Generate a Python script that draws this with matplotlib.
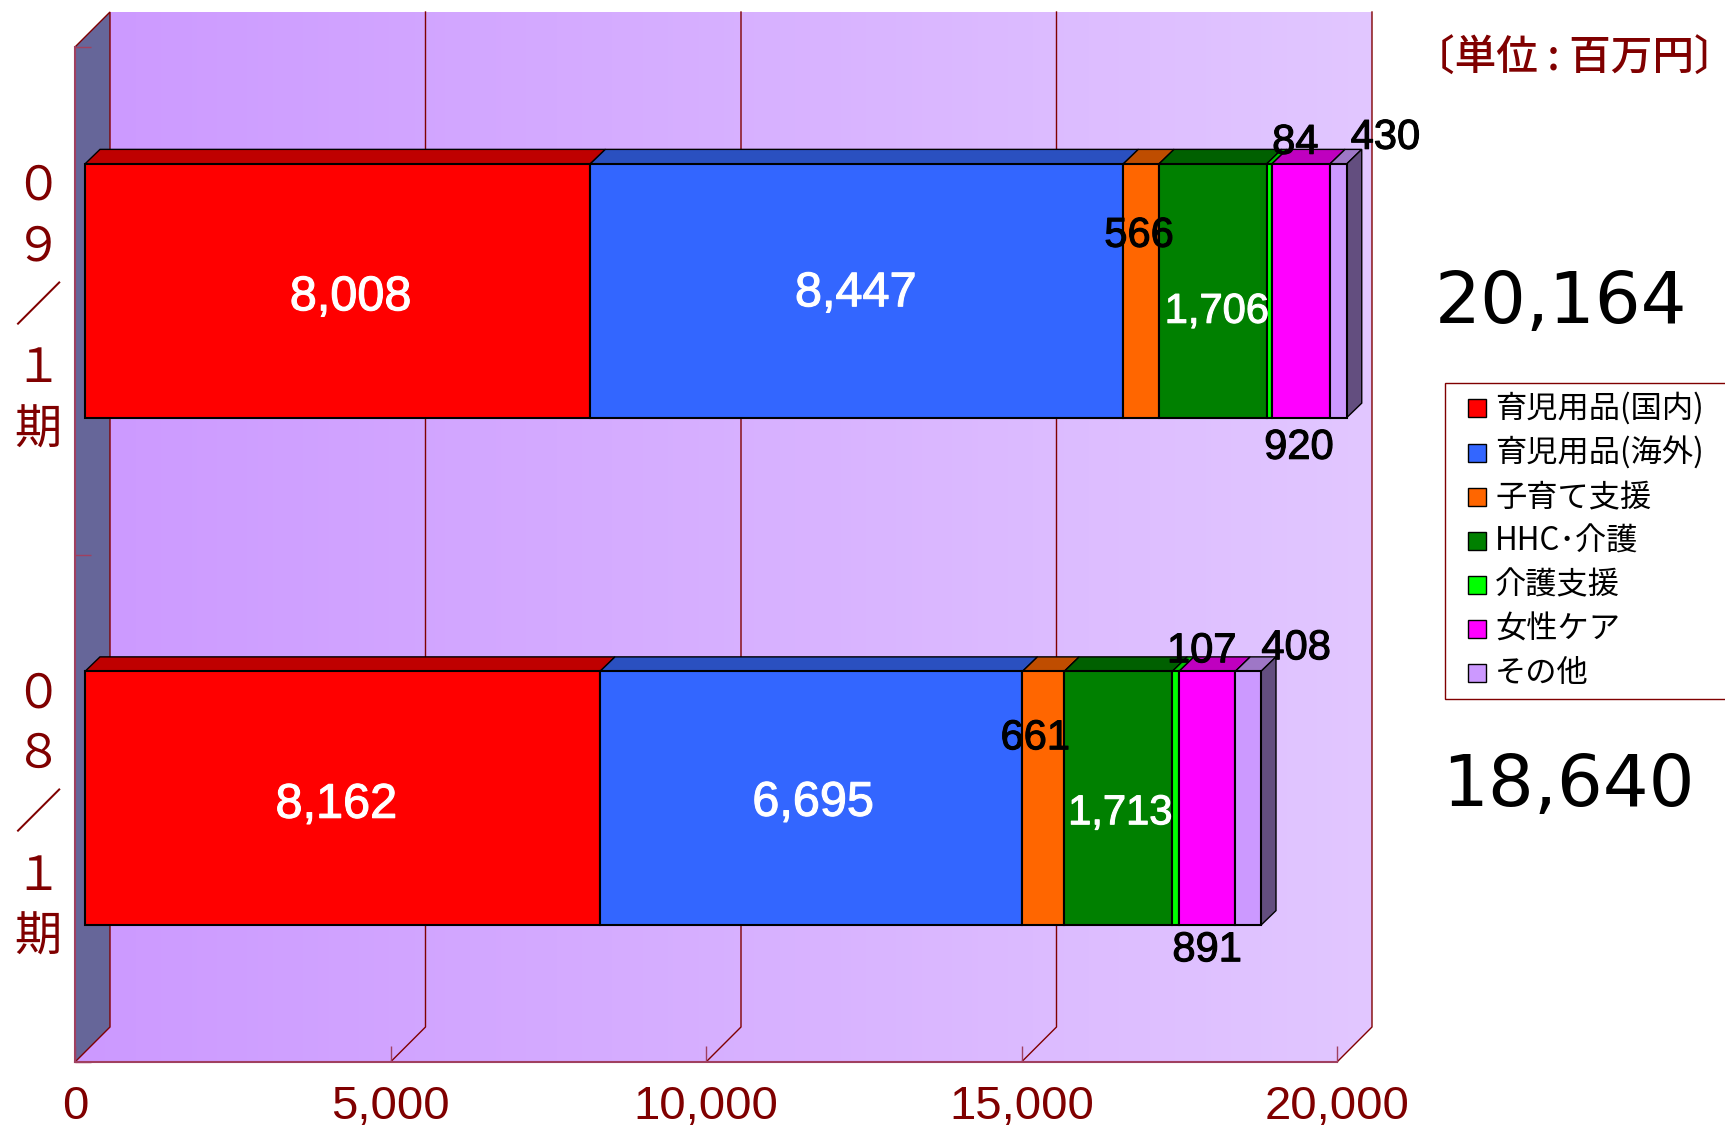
import numpy as np
from matplotlib import pyplot as plt
from matplotlib.patches import Polygon, Patch, Rectangle
from matplotlib.legend_handler import HandlerPatch
from matplotlib.transforms import ScaledTranslation
import matplotlib.patheffects as pe

plt.rcParams['font.family'] = ['Noto Sans CJK JP', 'DejaVu Sans']

W, H = 1725, 1126
DARK = '#800000'

series = ['育児用品(国内)', '育児用品(海外)', '子育て支援', 'HHC･介護', '介護支援', '女性ケア', 'その他']
colors = ['#FF0000', '#3366FF', '#FF6600', '#008000', '#00FF00', '#FF00FF', '#CC99FF']
tops = ['#BF0000', '#2A50C0', '#BF4D00', '#006000', '#00BF00', '#BF00BF', '#9E77C6']

# drawn widths, the last 09 segment is drawn shorter than its label says
bar_08 = [8162, 6695, 661, 1713, 107, 891, 408]
bar_09 = [8008, 8447, 566, 1706, 84, 920, 265]
labels_08 = ['8,162', '6,695', '661', '1,713', '107', '891', '408']
labels_09 = ['8,008', '8,447', '566', '1,706', '84', '920', '430']
totals = ['18,640', '20,164']
cat_labels = ['０\n８\n／\n１\n期', '０\n９\n／\n１\n期']
xticks = [0, 5000, 10000, 15000, 20000]
xtick_labels = ['0', '5,000', '10,000', '15,000', '20,000']

# label offsets in pixels from the middle of each segment
offs_08 = [(-6, -7), (2, -5), (-8, 60), (2, -15), (26, 147), (0, -152), (48, 150)]
offs_09 = [(13, -7), (-1, -3), (-2, 55), (4, -21), (26, 148), (-2, -157), (47, 153)]
sizes = [35, 35, 30, 30, 30, 30, 30]
white = [True, True, False, True, False, False, False]

fig = plt.figure(figsize=(W / 100, H / 100), dpi=100)
ax = fig.add_axes([75 / W, (H - 1062) / H, 1262 / W, 1015 / H])

# px to data units
ux = 20000 / 1262
uy = 2 / 1015
wall_dx, wall_dy = 35 * ux, 35 * uy
bar_dx, bar_dy = 15 * ux, 14.5 * uy
shift_x, shift_y = 10 * ux, 10 * uy

# walls
wall = Polygon([(0, 0), (wall_dx, wall_dy), (wall_dx, 2 + wall_dy), (20000 + wall_dx, 2 + wall_dy),
                (20000 + wall_dx, wall_dy), (20000, 0)], closed=True, fc='none', ec='none',
               transform=ax.transData)
ax.add_patch(wall)
grad = np.linspace(0, 1, 256).reshape(1, -1)
grad = np.dstack([0.80 + 0.085 * grad, 0.60 + 0.18 * grad, np.ones_like(grad)])
im = ax.imshow(grad, extent=(0, 20000 + wall_dx, 0, 2 + wall_dy), aspect='auto', zorder=0)
im.set_clip_box(fig.bbox)
im.set_clip_path(wall)

ax.add_patch(Polygon([(0, 0), (wall_dx, wall_dy), (wall_dx, 2 + wall_dy), (0, 2)], closed=True,
                     fc='#666699', ec=DARK, lw=1, zorder=1, clip_on=False))

for v in xticks[1:]:
    ax.plot([v, v + wall_dx, v + wall_dx], [0, wall_dy, 2 + wall_dy], color=DARK, lw=1,
            zorder=1, clip_on=False)


def draw_bar(vals, labels, offs, pos):
    y = pos + shift_y
    left = shift_x
    for i, v in enumerate(vals):
        ax.barh(y, v, left=left, height=0.5, color=colors[i], edgecolor='black', lw=1.5, zorder=4,
                clip_on=False)
        t = y + 0.25
        ax.add_patch(Polygon([(left, t), (left + bar_dx, t + bar_dy), (left + v + bar_dx, t + bar_dy),
                              (left + v, t)], closed=True, fc=tops[i], ec='black', lw=1, zorder=3,
                             clip_on=False))
        c = 'white' if white[i] else 'black'
        a = ax.annotate(labels[i], xy=(left + v / 2, y), xytext=offs[i], textcoords='offset pixels',
                        ha='center', va='center', fontsize=sizes[i], family='Liberation Sans', zorder=6,
                        color=c, annotation_clip=False)
        a.set_path_effects([pe.withStroke(linewidth=0.8, foreground=c)])
        left += v
    b = y - 0.25
    ax.add_patch(Polygon([(left, b), (left + bar_dx, b + bar_dy), (left + bar_dx, b + 0.5 + bar_dy),
                          (left, b + 0.5)], closed=True, fc='#634E7F', ec='black', lw=1, zorder=3,
                         clip_on=False))


draw_bar(bar_08, labels_08, offs_08, 0.5)
draw_bar(bar_09, labels_09, offs_09, 1.5)

ax.set_xlim(0, 20000)
ax.set_ylim(0, 2)
for s in ['top', 'right']:
    ax.spines[s].set_visible(False)
for s in ['left', 'bottom']:
    ax.spines[s].set_color('#A04060')
    ax.spines[s].set_linewidth(1.5)

ax.set_xticks(xticks, xtick_labels, fontsize=34, color=DARK, family='Liberation Sans')
ax.set_yticks([0, 1, 2], [])
ax.set_yticks([0.5, 1.5], cat_labels, minor=True, fontsize=34, color=DARK, linespacing=1.33,
              ha='center')
ax.tick_params(axis='both', which='major', direction='in', length=11.5, width=1, color='#A04060')
ax.tick_params(axis='x', pad=16.5)
ax.tick_params(axis='y', which='minor', length=0, pad=14)
for t in ax.get_yticklabels(minor=True):
    t.set_x(-0.0138)
    t.set_transform(t.get_transform() + ScaledTranslation(0, 3 / 72, fig.dpi_scale_trans))

fig.text(1574 / W, 1 - 58 / H, '〔単位 : 百万円〕', fontsize=30, color=DARK, ha='center', va='center',
         fontweight='medium')
fig.text(1561 / W, 1 - 304 / H, totals[1], fontsize=52, ha='center', va='center',
         family='DejaVu Sans')
fig.text(1568 / W, 1 - 786 / H, totals[0], fontsize=52, ha='center', va='center',
         family='DejaVu Sans')


def square(legend, orig_handle, xdescent, ydescent, width, height, fontsize):
    return Rectangle((width - 18 * 0.72, (height - 18 * 0.72) / 2), 18 * 0.72, 18 * 0.72)


handles = [Patch(fc=c, ec='black', lw=1) for c in colors]
leg = fig.legend(handles, series, loc='upper left', bbox_to_anchor=(1445 / W, 1 - 690 / H, 320 / W, 307 / H),
                 mode='expand', fontsize=22.5, frameon=True, fancybox=False, edgecolor=DARK, framealpha=1,
                 handlelength=1.0, handleheight=0.6, labelspacing=0.38, handletextpad=0.31,
                 borderpad=0.3, borderaxespad=0, ncols=1,
                 handler_map={Patch: HandlerPatch(patch_func=square)})
leg.get_frame().set_linewidth(1)

plt.savefig('out.png', dpi=100)
